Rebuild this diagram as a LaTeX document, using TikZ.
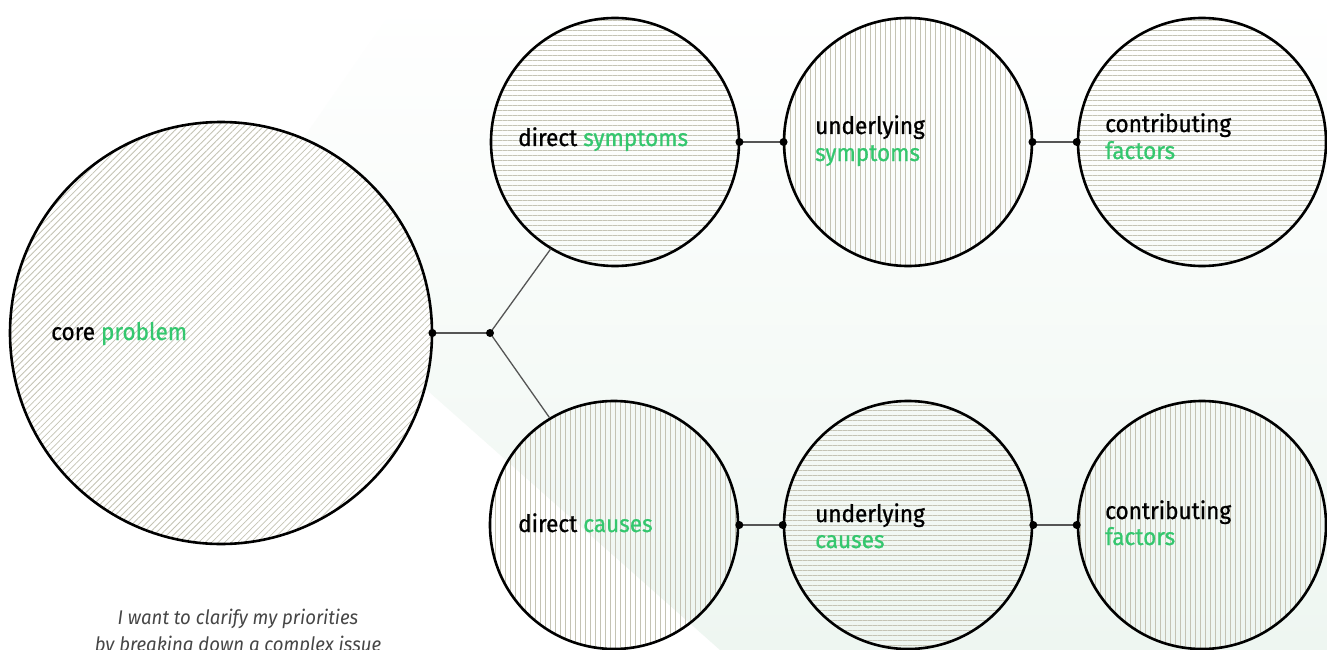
\documentclass[tikz,border=0pt]{standalone}
\usepackage{fontspec}
\setmainfont{Fira Sans}[FakeStretch=0.94, FakeBold=0.8]
\newfontfamily\notefont{Fira Sans}[FakeStretch=0.94]
\usetikzlibrary{patterns.meta}
\definecolor{grn}{RGB}{52,199,110}
\definecolor{hatch}{RGB}{196,195,180}
\definecolor{bgg}{RGB}{238,246,241}
\definecolor{wirec}{RGB}{85,85,85}
\definecolor{notec}{RGB}{70,70,70}
\begin{document}
\begin{tikzpicture}[x=1pt,y=-1pt,
  bubble/.style={circle, draw=black, line width=2.6pt, inner sep=0pt, minimum size=248pt},
  hlines/.style={pattern={Lines[angle=0,distance=5pt,line width=0.9pt]}, pattern color=hatch},
  vlines/.style={pattern={Lines[angle=90,distance=5pt,line width=0.9pt]}, pattern color=hatch},
  dlines/.style={pattern={Lines[angle=45,distance=4.6pt,line width=0.8pt]}, pattern color=hatch},
  wire/.style={draw=wirec, line width=1.3pt},
  lbl/.style={anchor=base west, font=\fontsize{24}{28}\selectfont, inner sep=0pt},
  notetxt/.style={anchor=base, font=\notefont\fontsize{19.8}{24}\itshape, text=notec, inner sep=0pt}
]
\useasboundingbox (0,0) rectangle (1327,650);
\clip (0,0) rectangle (1327,650);
\fill[white] (0,0) rectangle (1327,650);
% background shape
\shade[left color=white, right color=bgg, shading angle=0]
  (400,0) -- (1327,0) -- (1327,650) -- (720,650) -- (242,226) -- cycle;

% circles
\fill[white] (221,333) circle (211pt);
\node[bubble, dlines, minimum size=422pt] (core) at (221,333) {};
\node[bubble, hlines] (ds) at (615,142) {};
\node[bubble, vlines] (us) at (908,142) {};
\node[bubble, hlines] (cs) at (1202,142) {};
\node[bubble, vlines] (dc) at (614,525) {};
\node[bubble, hlines] (uc) at (908,525) {};
\node[bubble, vlines] (cc) at (1202,525) {};

% connectors
\coordinate (j) at (490,333);
\draw[wire] (core.east) -- (j);
\draw[wire] (j) -- (ds.239);
\draw[wire] (j) -- (dc.121);
\draw[wire] (ds.east) -- (us.west);
\draw[wire] (us.east) -- (cs.west);
\draw[wire] (dc.east) -- (uc.west);
\draw[wire] (uc.east) -- (cc.west);
\foreach \n in {j, core.east, ds.east, us.west, us.east, cs.west, dc.east, uc.west, uc.east, cc.west}
  \fill (\n) circle (4pt);

% labels
\node[lbl] (tcore) at (51,340) {core \textcolor{grn}{problem}};
\node[lbl] (tds) at (518,146) {direct \textcolor{grn}{symptoms}};
\node[lbl] (tus1) at (815,134) {underlying};
\node[lbl, text=grn] (tus2) at (815,161) {symptoms};
\node[lbl] (tcs1) at (1105,132) {contributing};
\node[lbl, text=grn] (tcs2) at (1105,159) {factors};
\node[lbl] (tdc) at (518,532) {direct \textcolor{grn}{causes}};
\node[lbl] (tuc1) at (815,522) {underlying};
\node[lbl, text=grn] (tuc2) at (815,548) {causes};
\node[lbl] (tcc1) at (1105,519) {contributing};
\node[lbl, text=grn] (tcc2) at (1105,545) {factors};

% note
\node[notetxt] (n1) at (238,624) {I want to clarify my priorities};
\node[notetxt] (n2) at (238,651) {by breaking down a complex issue};
\end{tikzpicture}
\end{document}
